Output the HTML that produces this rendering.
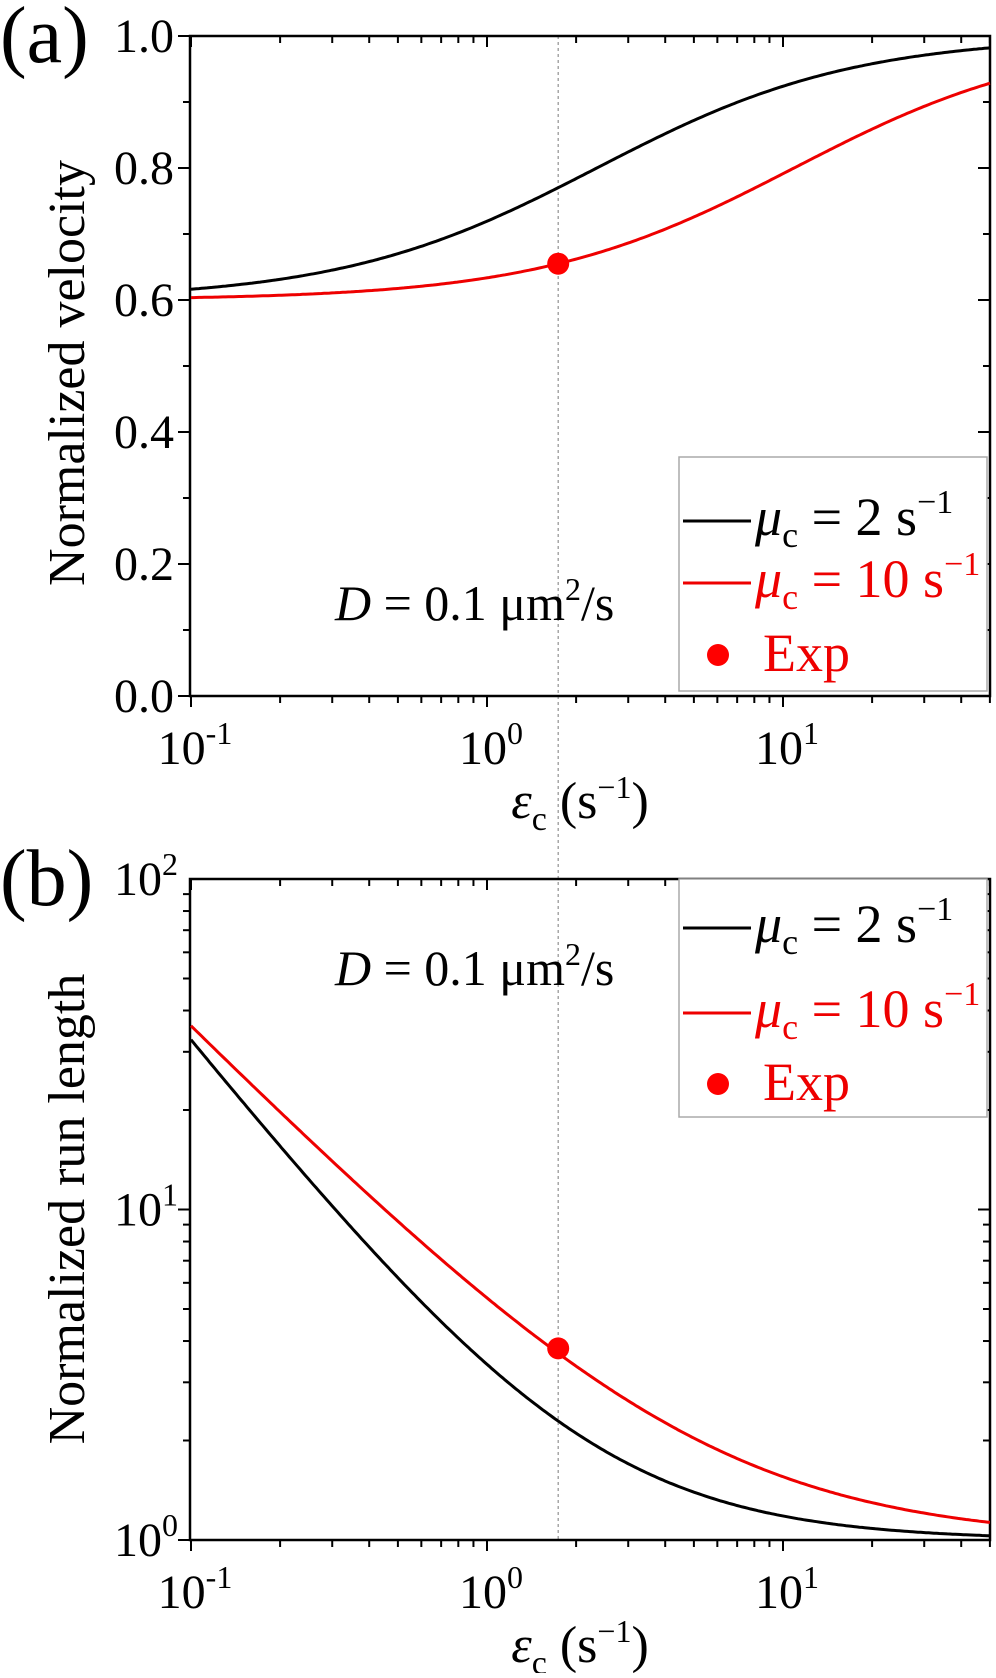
<!DOCTYPE html>
<html><head><meta charset="utf-8"><style>
html,body{margin:0;padding:0;background:#fff;}
svg text{font-family:"Liberation Serif","Times New Roman",serif;}
</style></head><body>
<svg id="s" width="996" height="1673" xmlns="http://www.w3.org/2000/svg" font-family="Liberation Serif, serif"></svg>
<script>
const s=document.getElementById('s');
let h='';
const L=190,R=990,d0=487,dec=296;
const X=x=>d0+Math.log10(x)*dec;
const aT=36,aB=696;
const Ya=v=>aB-v*(aB-aT);
const bT=879,bB=1540;
const Yb=v=>bB-Math.log10(v)*(bB-bT)/2;
function path(f,Y,col){let p='';for(let i=0;i<=300;i++){const lx=-1+i*(2.699/300);const x=Math.pow(10,lx);p+=(i?'L':'M')+X(x).toFixed(1)+','+Y(f(x)).toFixed(1);}return `<path d="${p}" fill="none" stroke="${col}" stroke-width="3"/>`;}
function xticks(T,B){let t='';for(let e=-1;e<=1;e++)for(let m=1;m<=9;m++){const x=m*Math.pow(10,e);if(x>50.5)continue;const px=X(x);const len=m==1?11:7;t+=`<line x1="${px}" y1="${B}" x2="${px}" y2="${B+len}" stroke="#000" stroke-width="2"/><line x1="${px}" y1="${T}" x2="${px}" y2="${T+len}" stroke="#000" stroke-width="2"/>`;}
[-1,0,1].forEach(e=>{t+=`<text x="${X(Math.pow(10,e))+4}" y="${B+68}" font-size="48" text-anchor="middle">10<tspan dy="-20" font-size="32">${e==-1?'-1':e}</tspan></text>`;});return t;}
const vx=X(1.74);
h+=`<line x1="${vx}" y1="${aT}" x2="${vx}" y2="${aB}" stroke="#999" stroke-width="1.3" stroke-dasharray="3,3"/>`;
h+=`<line x1="${vx}" y1="${aB}" x2="${vx}" y2="${bB}" stroke="#999" stroke-width="1.3" stroke-dasharray="3,3"/>`;
h+=`<rect x="${L}" y="${aT}" width="${R-L}" height="${aB-aT}" fill="none" stroke="#000" stroke-width="2.5"/>`;
for(let i=0;i<=10;i++){const v=i/10,y=Ya(v),len=i%2==0?12:7;h+=`<line x1="${L-len}" y1="${y}" x2="${L}" y2="${y}" stroke="#000" stroke-width="2"/><line x1="${R-len}" y1="${y}" x2="${R}" y2="${y}" stroke="#000" stroke-width="2"/>`;if(i%2==0)h+=`<text x="${L-16}" y="${y+16}" font-size="48" text-anchor="end">${v.toFixed(1)}</text>`;}
h+=xticks(aT,aB);
h+=path(x=>0.6+0.4*x/(x+2.35),Ya,'#000');
h+=path(x=>0.6+0.4*x/(x+10.9),Ya,'#e00');
h+=`<circle cx="${vx}" cy="${Ya(0.655)}" r="11" fill="#f00"/>`;
h+=`<rect x="${L}" y="${bT}" width="${R-L}" height="${bB-bT}" fill="none" stroke="#000" stroke-width="2.5"/>`;
for(let e=0;e<=1;e++)for(let m=1;m<=9;m++){const y=Yb(m*Math.pow(10,e)),len=m==1?12:7;h+=`<line x1="${L-len}" y1="${y}" x2="${L}" y2="${y}" stroke="#000" stroke-width="2"/><line x1="${R-len}" y1="${y}" x2="${R}" y2="${y}" stroke="#000" stroke-width="2"/>`;}
[0,1,2].forEach(e=>{h+=`<text x="${L-12}" y="${Yb(Math.pow(10,e))+16}" font-size="48" text-anchor="end">10<tspan dy="-20" font-size="32">${e}</tspan></text>`;});
h+=xticks(bT,bB);
h+=path(x=>1+2.4/Math.pow(x,1.12),Yb,'#000');
h+=path(x=>1+4.4/Math.pow(x,0.9),Yb,'#e00');
h+=`<circle cx="${vx}" cy="${Yb(3.8)}" r="11" fill="#f00"/>`;
h+=`<text x="0" y="62" font-size="80">(a)</text><text x="0" y="905" font-size="80">(b)</text>`;
h+=`<text transform="translate(84,373) rotate(-90)" font-size="52" text-anchor="middle">Normalized velocity</text>`;
h+=`<text transform="translate(84,1209) rotate(-90)" font-size="52" text-anchor="middle">Normalized run length</text>`;
function xl(y){return `<text x="580" y="${y}" font-size="52" text-anchor="middle"><tspan font-style="italic">ε</tspan><tspan font-size="34" dy="12">c</tspan><tspan dy="-12"> (s</tspan><tspan font-size="32" dy="-20">−1</tspan><tspan dy="20">)</tspan></text>`;}
h+=xl(818)+xl(1662);
function dl(y){return `<text x="335" y="${y}" font-size="50"><tspan font-style="italic">D</tspan> = 0.1 μm<tspan font-size="32" dy="-20">2</tspan><tspan dy="20">/s</tspan></text>`;}
h+=dl(620)+dl(985);
function leg(x0,y0,w,hh,o){let t=`<rect x="${x0}" y="${y0}" width="${w}" height="${hh}" fill="#fff" stroke="#aaa" stroke-width="1.5"/>`;
const rows=[[y0+o[0],'#000','2'],[y0+o[1],'#e00','10']];
rows.forEach(r=>{t+=`<line x1="${x0+4}" y1="${r[0]-14}" x2="${x0+72}" y2="${r[0]-14}" stroke="${r[1]}" stroke-width="3"/><text x="${x0+76}" y="${r[0]}" font-size="54" fill="${r[1]}"><tspan font-style="italic">μ</tspan><tspan font-size="36" dy="12">c</tspan><tspan dy="-12"> = ${r[2]} s</tspan><tspan font-size="34" dy="-22">−1</tspan></text>`;});
t+=`<circle cx="${x0+39}" cy="${y0+o[2]-16}" r="11" fill="#f00"/><text x="${x0+84}" y="${y0+o[2]}" font-size="54" fill="#e00">Exp</text>`;return t;}
h+=leg(679,457,308,234,[78,140,214]);
h+=leg(679,879,308,238,[63,148,221]);
s.innerHTML=h;
</script>
</body></html>
